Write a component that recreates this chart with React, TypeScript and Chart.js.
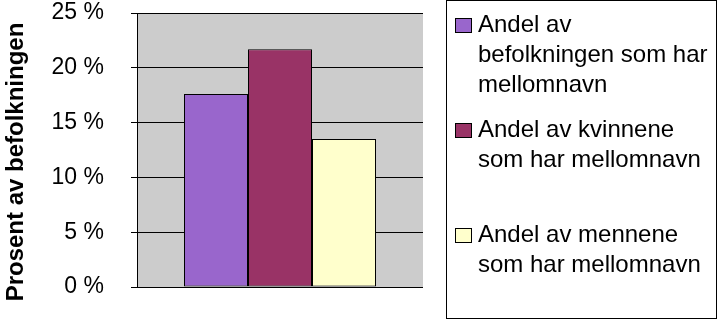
import React, { useEffect, useRef } from "react";
import { Chart, registerables } from "chart.js";

Chart.register(...registerables);

const categories = [""];
const seriesLabels = [
  "Andel av befolkningen som har mellomnavn",
  "Andel av kvinnene som har mellomnavn",
  "Andel av mennene som har mellomnavn",
];
const legendLines = [
  ["Andel av", "befolkningen som har", "mellomnavn"],
  ["Andel av kvinnene", "som har mellomnavn"],
  ["Andel av mennene", "som har mellomnavn"],
];
const seriesValues = [17.6, 21.7, 13.5];
const seriesColors = ["#9966cc", "#993366", "#ffffcc"];
const yTickValues = [0, 5, 10, 15, 20, 25];
const yTitle = "Prosent av befolkningen";

const FONT = "'Liberation Sans', Arial, Helvetica, sans-serif";

const plotBg = {
  id: "plotBg",
  beforeDraw(chart: any) {
    const { ctx, chartArea } = chart;
    ctx.save();
    ctx.fillStyle = "#cccccc";
    ctx.fillRect(chartArea.left, chartArea.top, chartArea.right - chartArea.left, chartArea.bottom - chartArea.top);
    ctx.restore();
  },
};

const yTitlePlugin = {
  id: "yTitlePlugin",
  afterDraw(chart: any) {
    const { ctx } = chart;
    ctx.save();
    ctx.translate(23, 162);
    ctx.rotate(-Math.PI / 2);
    ctx.font = `bold 24px ${FONT}`;
    ctx.fillStyle = "#000000";
    ctx.textAlign = "center";
    ctx.textBaseline = "alphabetic";
    ctx.fillText(yTitle, 0, 0);
    ctx.restore();
  },
};

export default function App() {
  const ref = useRef<HTMLCanvasElement | null>(null);

  useEffect(() => {
    if (!ref.current) return;
    const chart = new Chart(ref.current, {
      type: "bar",
      data: {
        labels: categories,
        datasets: seriesLabels.map((label, i) => ({
          label,
          data: [seriesValues[i]],
          backgroundColor: seriesColors[i],
          borderColor: "#000000",
          borderWidth: 1,
          borderSkipped: false,
          categoryPercentage: 192 / 286,
          barPercentage: 1,
        })),
      },
      options: {
        animation: false,
        responsive: false,
        devicePixelRatio: 1,
        layout: { padding: { left: 0, top: 13, right: 295, bottom: 32 } },
        plugins: {
          legend: { display: false },
          tooltip: { enabled: false },
        },
        scales: {
          x: { display: false },
          y: {
            min: 0,
            max: 25,
            afterFit(scale: any) {
              scale.width = 137;
              scale.paddingTop = 0;
              scale.paddingBottom = 0;
            },
            afterBuildTicks(scale: any) {
              scale.ticks = yTickValues.map((v) => ({ value: v }));
            },
            ticks: {
              callback: (v: any) => `${v} %`,
              color: "#000000",
              font: { family: FONT, size: 23 },
              padding: 27,
            },
            grid: {
              color: "#000000",
              lineWidth: 1,
              tickLength: 6,
              drawOnChartArea: true,
            },
            border: { display: true, color: "#000000", width: 1 },
            title: { display: false },
          },
        },
      },
      plugins: [plotBg, yTitlePlugin],
    });
    return () => chart.destroy();
  }, []);

  const itemBaselines = [32, 137, 242];
  const lineHeight = 30;
  const fontSize = 24;
  const baselineInLine = (lineHeight - fontSize * 1.149) / 2 + fontSize * 0.905;

  return (
    <div style={{ position: "fixed", left: 0, top: 0, width: 718, height: 319, background: "#ffffff" }}>
      <canvas ref={ref} width={718} height={319} style={{ position: "absolute", left: 0, top: 0, width: 718, height: 319 }} />
      <div
        style={{
          position: "absolute",
          left: 446,
          top: 0,
          width: 269,
          height: 317,
          border: "1px solid #000000",
          fontFamily: FONT,
          fontSize,
          lineHeight: `${lineHeight}px`,
          color: "#000000",
        }}
      >
        {legendLines.map((lines, i) => (
          <div key={i}>
            <div
              style={{
                position: "absolute",
                left: 8,
                top: itemBaselines[i] - 14 - 1,
                width: 15,
                height: 13,
                background: seriesColors[i],
                border: "1px solid #000000",
              }}
            />
            <div
              style={{
                position: "absolute",
                left: 31,
                top: itemBaselines[i] - baselineInLine - 1,
                whiteSpace: "nowrap",
              }}
            >
              {lines.map((l, j) => (
                <div key={j}>{l}</div>
              ))}
            </div>
          </div>
        ))}
      </div>
    </div>
  );
}
